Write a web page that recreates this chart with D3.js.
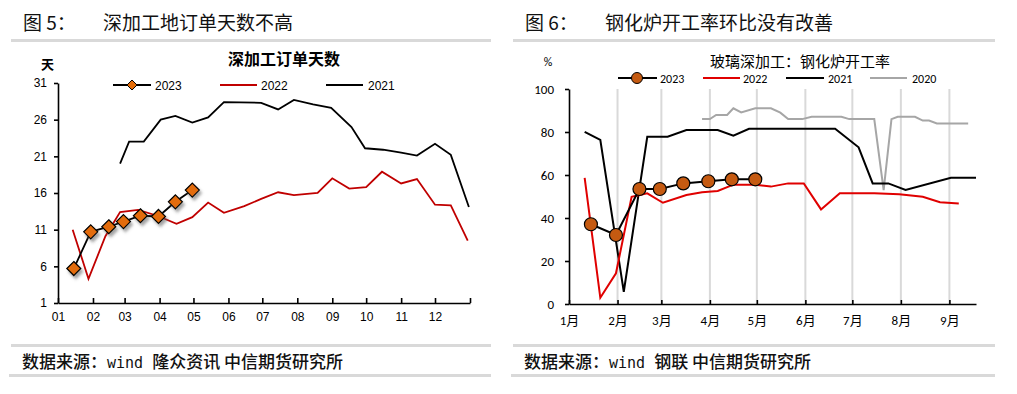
<!DOCTYPE html>
<html>
<head>
<meta charset="utf-8">
<script src="https://cdn.jsdelivr.net/npm/d3@7"></script>
<style>
  body { margin: 0; background: #fff; }
  svg { display: block; }
  .cjk { font-family: "Noto Sans CJK SC", sans-serif; }
  .lat { font-family: "Liberation Sans", Arial, sans-serif; }
  .cal { font-family: Carlito, Calibri, Lato, "Noto Sans CJK SC", sans-serif; }
</style>
</head>
<body>
<svg id="chart" width="1017" height="394"></svg>
<script>
// 左图：深加工订单天数（天）
const monthLabels = ["01", "02", "03", "04", "05", "06", "07", "08", "09", "10", "11", "12"];
const days2023Dates = ["01-15", "01-30", "02-15", "02-28", "03-15", "03-31", "04-15", "04-30"];
const days2023 = [5.7, 10.7, 11.4, 12.1, 12.9, 12.8, 14.8, 16.4];
const days2022Dates = ["01-14", "01-28", "02-12", "02-25", "03-13", "03-30", "04-16", "04-30", "05-14", "05-28",
  "06-15", "06-30", "07-15", "07-29", "08-19", "09-01", "09-16", "10-01", "10-15", "11-01", "11-15", "12-01", "12-15", "12-30"];
const days2022 = [11.0, 4.3, 10.1, 13.4, 13.7, 12.9, 11.8, 12.7, 14.7, 13.3,
  14.2, 15.2, 16.1, 15.7, 16.0, 18.0, 16.6, 16.8, 18.9, 17.3, 17.9, 14.4, 14.3, 9.5];
const days2021Dates = ["02-25", "03-05", "03-18", "04-02", "04-15", "04-30", "05-14", "05-28", "06-30", "07-15",
  "07-29", "08-15", "08-31", "09-18", "09-30", "10-16", "11-01", "11-15", "12-01", "12-15", "12-31"];
const days2021 = [20.0, 23.0, 23.0, 26.0, 26.5, 25.6, 26.3, 28.4, 28.3, 27.4,
  28.7, 28.1, 27.6, 25.0, 22.1, 21.9, 21.5, 21.1, 22.7, 21.2, 14.1];
const daysTicks = [1, 6, 11, 16, 21, 26, 31];

// 右图：钢化炉开工率（%）
const rateMonthLabels = ["1月", "2月", "3月", "4月", "5月", "6月", "7月", "8月", "9月"];
const rate2023Dates = ["01-15", "01-31", "02-15", "02-28", "03-15", "03-31", "04-15", "04-30"];
const rate2023 = [37.1, 32.1, 53.5, 53.5, 56.1, 57.1, 58.0, 58.0];
const rate2022Dates = ["01-11", "01-21", "01-31", "02-10", "02-20", "03-02", "03-17", "03-27", "04-06", "04-16", "04-30",
  "05-10", "05-21", "05-31", "06-11", "06-23", "07-15", "07-31", "08-15", "08-26", "09-07"];
const rate2022 = [58.7, 2.9, 14.3, 49.9, 51.5, 47.1, 50.7, 52.0, 52.6, 55.5, 55.5,
  54.6, 56.1, 56.1, 44.0, 51.5, 51.5, 51.0, 49.9, 47.3, 46.8];
const rate2021Dates = ["01-11", "01-21", "02-05", "02-20", "03-05", "03-17", "04-06", "04-16", "04-26",
  "06-20", "07-05", "07-14", "07-24", "08-04", "09-02", "09-18"];
const rate2021 = [80.1, 76.3, 5.7, 77.8, 77.8, 80.9, 80.9, 78.3, 81.5,
  81.5, 72.9, 56.1, 56.1, 53.0, 58.7, 58.7];
const rate2020Dates = ["03-27", "04-01", "04-05", "04-12", "04-16", "04-21", "04-30", "05-10", "05-16", "05-21", "05-30",
  "06-05", "06-24", "06-29", "07-15", "07-21", "07-26", "07-30", "08-10", "08-15", "08-19", "08-24", "09-13"];
const rate2020 = [86.0, 86.0, 87.9, 87.9, 91.0, 89.1, 91.0, 91.0, 89.0, 86.0, 86.0,
  87.1, 87.1, 86.0, 86.0, 53.0, 86.0, 87.1, 87.1, 85.3, 85.3, 84.0, 84.0];
const rateTicks = [0, 20, 40, 60, 80, 100];

const parse = d3.timeParse("%Y-%m-%d");
const toDate = s => parse("2023-" + s);
const zip = (ds, vs) => ds.map((d, i) => ({ date: toDate(d), value: vs[i] }));

const svg = d3.select("#chart");
const defs = svg.append("defs");
defs.append("filter").attr("id", "shadow").attr("x", "-50%").attr("y", "-50%").attr("width", "200%").attr("height", "200%")
  .append("feDropShadow").attr("dx", 2).attr("dy", 3).attr("stdDeviation", 1.8)
  .attr("flood-color", "#555").attr("flood-opacity", 0.55);

// 页眉、页脚的灰线和文字
function frame(x0, x1, num, title, source) {
  svg.append("rect").attr("x", x0).attr("y", 39).attr("width", x1 - x0).attr("height", 3).attr("fill", "#d9d9d9");
  svg.append("rect").attr("x", x0).attr("y", 344).attr("width", x1 - x0).attr("height", 3).attr("fill", "#d9d9d9");
  svg.append("rect").attr("x", x0 - 2).attr("y", 374).attr("width", x1 - x0 + 2).attr("height", 3).attr("fill", "#d9d9d9");
  svg.append("text").attr("class", "cjk").attr("x", x0 + 12).attr("y", 30).attr("font-size", 19).attr("fill", "#111")
    .text("图 " + num + "：");
  svg.append("text").attr("class", "cjk").attr("x", x0 + 92).attr("y", 30).attr("font-size", 19).attr("fill", "#111")
    .text(title);
  const t = svg.append("text").attr("class", "cjk").attr("x", x0 + 11).attr("y", 368)
    .attr("font-size", 17).attr("font-weight", 500).attr("fill", "#111");
  t.append("tspan").text("数据来源：");
  t.append("tspan").attr("font-family", "'DejaVu Sans Mono', monospace").attr("font-size", 15).text("wind ");
  t.append("tspan").text(source);
}
frame(11, 491, 5, "深加工地订单天数不高", "隆众资讯 中信期货研究所");
frame(513, 995, 6, "钢化炉开工率环比没有改善", "钢联 中信期货研究所");

// ---------- 左图 ----------
const xL = d3.scaleTime().domain([parse("2023-01-01"), parse("2024-01-01")]).range([58, 470]);
const yL = d3.scaleLinear().domain([1, 31]).range([303, 83]);
const gL = svg.append("g");

const monthStarts = d3.range(0, 13).map(m => new Date(2023, m, 1));
gL.append("g").attr("class", "lat").attr("transform", "translate(0,303)")
  .call(d3.axisBottom(xL).tickValues(monthStarts).tickSizeInner(-5).tickSizeOuter(0).tickPadding(9)
    .tickFormat((d, i) => monthLabels[i] || ""))
  .call(g => g.selectAll("text").attr("font-size", 12).attr("fill", "#000").attr("font-family", null))
  .call(g => g.selectAll("line,path").attr("stroke", "#000").attr("stroke-width", 1.6));
gL.append("g").attr("class", "lat").attr("transform", "translate(58,0)")
  .call(d3.axisLeft(yL).tickValues(daysTicks).tickSizeInner(4).tickSizeOuter(0).tickPadding(7))
  .call(g => g.selectAll("text").attr("font-size", 12).attr("fill", "#000").attr("font-family", null))
  .call(g => g.selectAll("line,path").attr("stroke", "#000").attr("stroke-width", 1.6));

gL.append("text").attr("class", "cjk").attr("x", 41).attr("y", 69).attr("font-size", 13).attr("font-weight", 700).text("天");
gL.append("text").attr("class", "cjk").attr("x", 284).attr("y", 65).attr("text-anchor", "middle")
  .attr("font-size", 16).attr("font-weight", 700).text("深加工订单天数");

const lineL = d3.line().x(d => xL(d.date)).y(d => yL(d.value));
gL.append("path").datum(zip(days2021Dates, days2021)).attr("d", lineL)
  .attr("fill", "none").attr("stroke", "#000").attr("stroke-width", 1.8);
gL.append("path").datum(zip(days2022Dates, days2022)).attr("d", lineL)
  .attr("fill", "none").attr("stroke", "#c00000").attr("stroke-width", 1.8);
gL.append("path").datum(zip(days2023Dates, days2023)).attr("d", lineL)
  .attr("fill", "none").attr("stroke", "#000").attr("stroke-width", 1.8);

const diamond = "M0,-7L7,0L0,7L-7,0Z";
gL.append("g").selectAll("path").data(zip(days2023Dates, days2023)).join("path")
  .attr("d", diamond).attr("transform", d => `translate(${xL(d.date)},${yL(d.value)})`)
  .attr("fill", "#e36c09").attr("stroke", "#000").attr("stroke-width", 1.2).attr("filter", "url(#shadow)");

// 图例
const legL = gL.append("g").attr("class", "lat").attr("font-size", 12);
legL.append("line").attr("x1", 113).attr("x2", 151).attr("y1", 85).attr("y2", 85).attr("stroke", "#000").attr("stroke-width", 1.8);
legL.append("path").attr("d", "M0,-5L5,0L0,5L-5,0Z").attr("transform", "translate(132,85)")
  .attr("fill", "#e36c09").attr("stroke", "#000").attr("stroke-width", 1);
legL.append("text").attr("x", 155).attr("y", 89.5).text("2023");
legL.append("line").attr("x1", 220).attr("x2", 257).attr("y1", 85).attr("y2", 85).attr("stroke", "#c00000").attr("stroke-width", 1.8);
legL.append("text").attr("x", 261).attr("y", 89.5).text("2022");
legL.append("line").attr("x1", 326).attr("x2", 363).attr("y1", 85).attr("y2", 85).attr("stroke", "#000").attr("stroke-width", 1.8);
legL.append("text").attr("x", 368).attr("y", 89.5).text("2021");

// ---------- 右图 ----------
const xR = d3.scaleTime().domain([parse("2023-01-01"), parse("2023-09-18")]).range([569, 976]);
const yR = d3.scaleLinear().domain([0, 100]).range([304, 89]);
const gR = svg.append("g");
const rateMonths = d3.range(0, 9).map(m => new Date(2023, m, 1));

gR.append("g").selectAll("line").data(rateMonths.slice(1)).join("line")
  .attr("x1", d => xR(d)).attr("x2", d => xR(d)).attr("y1", 89).attr("y2", 304)
  .attr("stroke", "#d9d9d9").attr("stroke-width", 2);

gR.append("g").attr("class", "cal").attr("transform", "translate(0,304)")
  .call(d3.axisBottom(xR).tickValues(rateMonths).tickSizeInner(-4).tickSizeOuter(0).tickPadding(12)
    .tickFormat((d, i) => rateMonthLabels[i]))
  .call(g => g.selectAll("text").attr("font-size", 13).attr("fill", "#000").attr("font-family", null))
  .call(g => g.selectAll("line,path").attr("stroke", "#000").attr("stroke-width", 1.6));
gR.append("g").attr("class", "cal").attr("transform", "translate(569,0)")
  .call(d3.axisLeft(yR).tickValues(rateTicks).tickSizeInner(4).tickSizeOuter(0).tickPadding(11))
  .call(g => g.selectAll("text").attr("font-size", 13).attr("fill", "#000").attr("font-family", null))
  .call(g => g.selectAll("line,path").attr("stroke", "#000").attr("stroke-width", 1.6));

gR.append("text").attr("class", "cal").attr("x", 548).attr("y", 66).attr("text-anchor", "middle").attr("font-size", 12).text("%");
gR.append("text").attr("class", "cjk").attr("x", 800).attr("y", 67).attr("text-anchor", "middle")
  .attr("font-size", 15).text("玻璃深加工：钢化炉开工率");

const lineR = d3.line().x(d => xR(d.date)).y(d => yR(d.value));
gR.append("path").datum(zip(rate2020Dates, rate2020)).attr("d", lineR)
  .attr("fill", "none").attr("stroke", "#a6a6a6").attr("stroke-width", 2);
gR.append("path").datum(zip(rate2021Dates, rate2021)).attr("d", lineR)
  .attr("fill", "none").attr("stroke", "#000").attr("stroke-width", 2);
gR.append("path").datum(zip(rate2022Dates, rate2022)).attr("d", lineR)
  .attr("fill", "none").attr("stroke", "#e00000").attr("stroke-width", 2);
gR.append("path").datum(zip(rate2023Dates, rate2023)).attr("d", lineR)
  .attr("fill", "none").attr("stroke", "#000").attr("stroke-width", 2);
gR.append("g").selectAll("circle").data(zip(rate2023Dates, rate2023)).join("circle")
  .attr("cx", d => xR(d.date)).attr("cy", d => yR(d.value)).attr("r", 6.5)
  .attr("fill", "#c55a11").attr("stroke", "#000").attr("stroke-width", 1.2);

const legR = gR.append("g").attr("class", "cal").attr("font-size", 12);
legR.append("line").attr("x1", 618).attr("x2", 657).attr("y1", 78).attr("y2", 78).attr("stroke", "#000").attr("stroke-width", 2);
legR.append("circle").attr("cx", 637).attr("cy", 78).attr("r", 5.5).attr("fill", "#c55a11").attr("stroke", "#000").attr("stroke-width", 1);
legR.append("text").attr("x", 660).attr("y", 82.5).text("2023");
legR.append("line").attr("x1", 703).attr("x2", 740).attr("y1", 78).attr("y2", 78).attr("stroke", "#e00000").attr("stroke-width", 2);
legR.append("text").attr("x", 743).attr("y", 82.5).text("2022");
legR.append("line").attr("x1", 786).attr("x2", 824).attr("y1", 78).attr("y2", 78).attr("stroke", "#000").attr("stroke-width", 2);
legR.append("text").attr("x", 828).attr("y", 82.5).text("2021");
legR.append("line").attr("x1", 870).attr("x2", 907).attr("y1", 78).attr("y2", 78).attr("stroke", "#a6a6a6").attr("stroke-width", 2);
legR.append("text").attr("x", 912).attr("y", 82.5).text("2020");
</script>
</body>
</html>
